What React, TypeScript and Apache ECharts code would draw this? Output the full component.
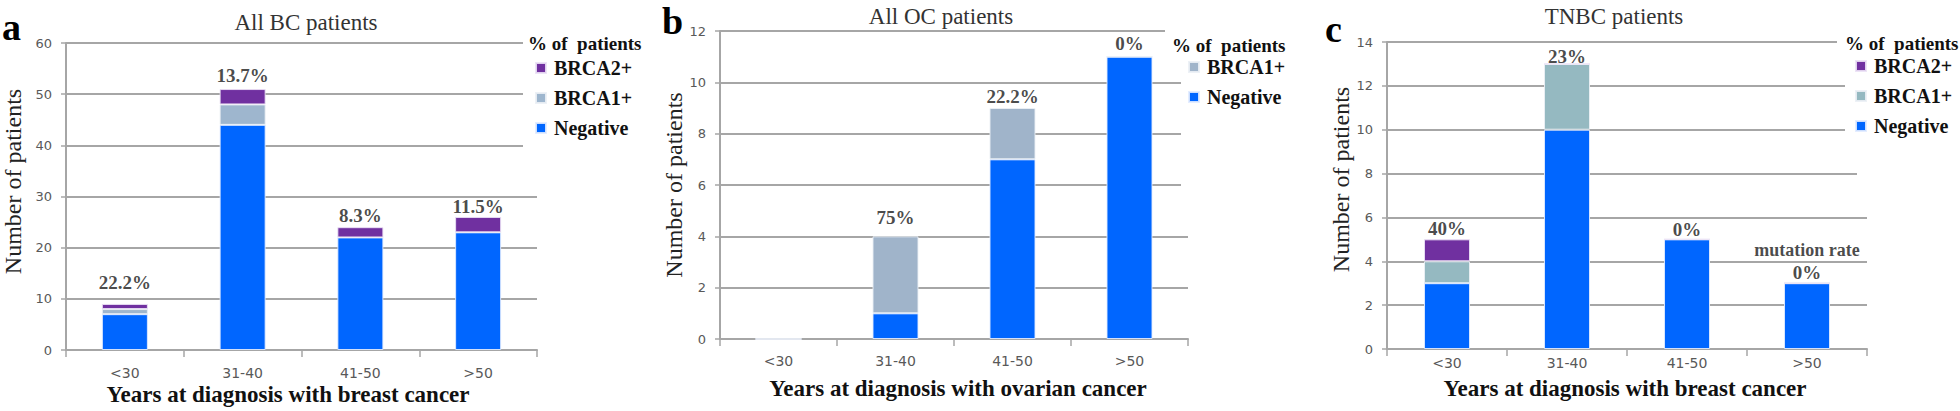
import React, { useEffect, useRef } from "react";
import * as echarts from "echarts";

// ---------- data ----------
const categories = ["<30", "31-40", "41-50", ">50"];

// a: All BC patients
const bcNegative = [7, 44, 22, 23];
const bcBrca1 = [1, 4, 0, 0];
const bcBrca2 = [1, 3, 2, 3];
const bcRates = ["22.2%", "13.7%", "8.3%", "11.5%"];
const bcTicks = { max: 60, step: 10 };

// b: All OC patients
const ocNegative = [0, 1, 7, 11];
const ocBrca1 = [0, 3, 2, 0];
const ocRates = ["", "75%", "22.2%", "0%"];
const ocTicks = { max: 12, step: 2 };

// c: TNBC patients
const tnNegative = [3, 10, 5, 3];
const tnBrca1 = [1, 3, 0, 0];
const tnBrca2 = [1, 0, 0, 0];
const tnRates = ["40%", "23%", "0%", "0%"];
const tnTicks = { max: 14, step: 2 };

// ---------- styles ----------
const SERIF = "Liberation Serif, Times New Roman, serif";
const SANS = "DejaVu Sans, Verdana, sans-serif";
const GRID_GREY = "#A6A6A6";
const NEG_COLOR = "#0066FF";
const B2_COLOR = "#7030A0";

type Panel = {
  letter: string;
  letterPos: { x: number; y: number };
  title: string;
  titlePos: { x: number; y: number };
  headerPos: { x: number; y: number };
  grid: { left: number; top: number; width: number; height: number };
  ticks: { max: number; step: number };
  negative: number[];
  brca1: number[];
  brca2: number[] | null;
  rates: string[];
  b1Color: string;
  xName: string;
  xNamePos: { x: number; y: number };
  xLabelMargin: number;
  yNameGap: number;
  yNamePad: number[];
  labelDist: number[];
  noteIndex: number;
  legend: { left: number; top: number };
};

const panels: Panel[] = [
  {
    letter: "a",
    letterPos: { x: 2, y: 8 },
    title: "All BC patients",
    titlePos: { x: 306, y: 22 },
    headerPos: { x: 528, y: 43 },
    grid: { left: 65, top: 43, width: 472, height: 307 },
    ticks: bcTicks,
    negative: bcNegative,
    brca1: bcBrca1,
    brca2: bcBrca2,
    rates: bcRates,
    b1Color: "#9EB6CE",
    xName: "Years at diagnosis with breast cancer",
    xNamePos: { x: 288, y: 394 },
    xLabelMargin: 16,
    yNameGap: 41,
    yNamePad: [0, 0, 0, 30],
    labelDist: [12, 4, 2, 1],
    noteIndex: -1,
    legend: { left: 535, top: 58 },
  },
  {
    letter: "b",
    letterPos: { x: 662, y: 2 },
    title: "All OC patients",
    titlePos: { x: 941, y: 16 },
    headerPos: { x: 1172, y: 45 },
    grid: { left: 720, top: 31, width: 468, height: 308 },
    ticks: ocTicks,
    negative: ocNegative,
    brca1: ocBrca1,
    brca2: null,
    rates: ocRates,
    b1Color: "#A0B4CA",
    xName: "Years at diagnosis with ovarian cancer",
    xNamePos: { x: 958, y: 388 },
    xLabelMargin: 15,
    yNameGap: 25,
    yNamePad: [0, 0, 0, 0],
    labelDist: [0, 9, 2, 4],
    noteIndex: -1,
    legend: { left: 1188, top: 57 },
  },
  {
    letter: "c",
    letterPos: { x: 1325, y: 10 },
    title: "TNBC patients",
    titlePos: { x: 1614, y: 16 },
    headerPos: { x: 1845, y: 43 },
    grid: { left: 1387, top: 42, width: 480, height: 307 },
    ticks: tnTicks,
    negative: tnNegative,
    brca1: tnBrca1,
    brca2: tnBrca2,
    rates: tnRates,
    b1Color: "#95B9C1",
    xName: "Years at diagnosis with breast cancer",
    xNamePos: { x: 1625, y: 388 },
    xLabelMargin: 7,
    yNameGap: 34,
    yNamePad: [0, 0, 0, 32],
    labelDist: [1, -2, 0, 1],
    noteIndex: 3,
    legend: { left: 1855, top: 56 },
  },
];

function buildOption() {
  const grid: any[] = [];
  const xAxis: any[] = [];
  const yAxis: any[] = [];
  const series: any[] = [];
  const legend: any[] = [];
  const graphic: any[] = [];

  panels.forEach((p, i) => {
    grid.push({ ...p.grid, containLabel: false });
    xAxis.push({
      type: "category",
      gridIndex: i,
      data: categories,
      boundaryGap: true,
      axisLine: { show: true, lineStyle: { color: GRID_GREY, width: 2 } },
      axisTick: { show: true, length: 7, lineStyle: { color: GRID_GREY, width: 1.5 } },
      axisLabel: {
        color: "#595959",
        fontFamily: SANS,
        fontSize: 14,
        margin: p.xLabelMargin,
      },
    });
    yAxis.push({
      type: "value",
      gridIndex: i,
      min: 0,
      max: p.ticks.max,
      interval: p.ticks.step,
      axisLine: { show: true, lineStyle: { color: GRID_GREY, width: 2 } },
      axisTick: { show: true, length: 5, lineStyle: { color: GRID_GREY, width: 1.5 } },
      axisLabel: { color: "#595959", fontFamily: SANS, fontSize: 13, margin: 14 },
      splitLine: { show: true, lineStyle: { color: GRID_GREY, width: 2 } },
      name: "Number of patients",
      nameLocation: "middle",
      nameGap: p.yNameGap,
      nameRotate: 90,
      nameTextStyle: {
        fontFamily: SERIF,
        fontSize: 24,
        color: "#222",
        padding: p.yNamePad,
      },
    });

    const stack = "stack" + i;
    const barBase = {
      type: "bar",
      xAxisIndex: i,
      yAxisIndex: i,
      stack,
      barWidth: 46,
      silent: true,
    };
    series.push({
      ...barBase,
      name: "Negative",
      data: p.negative,
      itemStyle: { color: NEG_COLOR, borderColor: "rgba(225,235,255,0.9)", borderWidth: 1 },
    });
    series.push({
      ...barBase,
      name: "BRCA1+",
      data: p.brca1,
      itemStyle: { color: p.b1Color, borderColor: "rgba(235,240,245,0.9)", borderWidth: 1 },
    });
    if (p.brca2) {
      series.push({
        ...barBase,
        name: "BRCA2+",
        data: p.brca2,
        itemStyle: { color: B2_COLOR, borderColor: "rgba(235,225,245,0.9)", borderWidth: 1 },
      });
    }

    const totals = p.negative.map(
      (v, k) => v + p.brca1[k] + (p.brca2 ? p.brca2[k] : 0)
    );
    series.push({
      type: "scatter",
      xAxisIndex: i,
      yAxisIndex: i,
      symbolSize: 0.1,
      silent: true,
      itemStyle: { color: "rgba(0,0,0,0)" },
      z: 5,
      data: totals.map((t, k) => ({
        value: t,
        label: {
          show: p.rates[k] !== "",
          distance: p.labelDist[k],
        },
      })),
      label: {
        show: true,
        position: "top",
        formatter: (prm: any) =>
          prm.dataIndex === p.noteIndex
            ? "{m|mutation rate}\n{v|" + p.rates[prm.dataIndex] + "}"
            : "{v|" + p.rates[prm.dataIndex] + "}",
        rich: {
          v: {
            fontFamily: SERIF,
            fontWeight: "bold",
            fontSize: 19,
            lineHeight: 19,
            color: "#1a1a1a",
            align: "center",
          },
          m: {
            fontFamily: SERIF,
            fontWeight: "bold",
            fontSize: 18,
            lineHeight: 27,
            color: "#1a1a1a",
            align: "center",
          },
        },
      },
    });

    const names = p.brca2 ? ["BRCA2+", "BRCA1+", "Negative"] : ["BRCA1+", "Negative"];
    const colorOf: Record<string, string> = {
      "BRCA2+": B2_COLOR,
      "BRCA1+": p.b1Color,
      Negative: NEG_COLOR,
    };
    legend.push({
      orient: "vertical",
      left: p.legend.left,
      top: p.legend.top,
      padding: 0,
      itemWidth: 10,
      itemHeight: 10,
      itemGap: 10,
      icon: "rect",
      selectedMode: false,
      data: names.map((n) => ({ name: n, itemStyle: { color: colorOf[n] } })),
      formatter: (n: string) => "{t|" + n + "}",
      textStyle: {
        rich: {
          t: {
            fontFamily: SERIF,
            fontWeight: "bold",
            fontSize: 20,
            lineHeight: 20,
            color: "#111",
            padding: [0, 0, 0, 3],
          },
        },
      },
    });

    graphic.push({
      type: "text",
      x: p.letterPos.x,
      y: p.letterPos.y,
      z: 10,
      style: {
        text: p.letter,
        fontFamily: SERIF,
        fontWeight: "bold",
        fontSize: 38,
        fill: "#000",
        verticalAlign: "top",
        align: "left",
      },
    });
    graphic.push({
      type: "text",
      x: p.titlePos.x,
      y: p.titlePos.y,
      z: 10,
      style: {
        text: p.title,
        fontFamily: SERIF,
        fontSize: 23,
        fill: "#333",
        verticalAlign: "middle",
        align: "center",
      },
    });
    graphic.push({
      type: "text",
      x: p.headerPos.x,
      y: p.headerPos.y,
      z: 10,
      style: {
        text: "% of  patients",
        fontFamily: SERIF,
        fontWeight: "bold",
        fontSize: 19,
        fill: "#111",
        verticalAlign: "middle",
        align: "left",
      },
    });
    graphic.push({
      type: "text",
      x: p.xNamePos.x,
      y: p.xNamePos.y,
      z: 10,
      style: {
        text: p.xName,
        fontFamily: SERIF,
        fontWeight: "bold",
        fontSize: 23,
        fill: "#111",
        verticalAlign: "middle",
        align: "center",
      },
    });
  });

  // white masks where gridlines stop short of the legends
  const masks = [
    { x: 523, y: 36, w: 20, h: 112 },
    { x: 1165, y: 24, w: 26, h: 14 },
    { x: 1181, y: 38, w: 10, h: 152 },
    { x: 1837, y: 35, w: 33, h: 15 },
    { x: 1845, y: 50, w: 25, h: 90 },
    { x: 1857, y: 140, w: 13, h: 40 },
  ];
  masks.forEach((m) =>
    graphic.push({
      type: "rect",
      shape: { x: m.x, y: m.y, width: m.w, height: m.h },
      style: { fill: "#fff" },
      z: 1,
      silent: true,
    })
  );

  return {
    animation: false,
    backgroundColor: "#fff",
    textStyle: { fontFamily: SERIF },
    grid,
    xAxis,
    yAxis,
    series,
    legend,
    graphic,
  };
}

export default function App() {
  const ref = useRef<HTMLDivElement>(null);
  useEffect(() => {
    if (!ref.current) return;
    const chart = echarts.init(ref.current, undefined, { renderer: "svg" });
    chart.setOption(buildOption() as any);
    return () => chart.dispose();
  }, []);
  return (
    <div
      ref={ref}
      style={{ position: "absolute", left: 0, top: 0, width: 1960, height: 411 }}
    />
  );
}
